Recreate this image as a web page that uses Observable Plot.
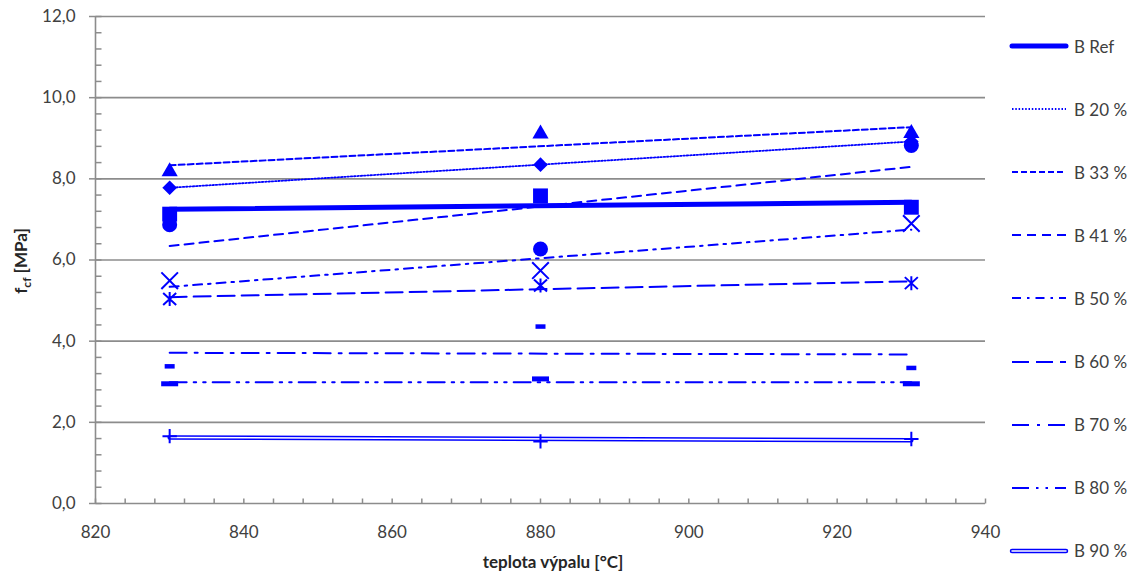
<!DOCTYPE html>
<html><head><meta charset="utf-8">
<script src="https://cdn.jsdelivr.net/npm/d3@7"></script>
<script src="https://cdn.jsdelivr.net/npm/@observablehq/plot@0.6"></script>
<style>
body{margin:0;background:#fff;font-family:Lato,"Liberation Sans",sans-serif;}
#wrap{position:relative;width:1143px;height:575px;overflow:hidden;}
#chart{position:absolute;left:0;top:0;}
#legend{position:absolute;left:1005px;top:0;width:138px;height:575px;}
.item{position:absolute;left:0;height:24px;display:flex;align-items:center;font-size:17px;color:#404040;white-space:nowrap;}
.item svg{margin-right:5px;}
</style></head><body>
<div id="wrap"><div id="chart"></div><div id="legend"></div></div>
<script>
// ---- data ----
const temps = [830, 880, 930];
const seriesNames = ["B Ref", "B 20 %", "B 33 %", "B 41 %", "B 50 %", "B 60 %", "B 70 %", "B 80 %", "B 90 %"];
const bRef = [7.13, 7.58, 7.30];
const b20  = [7.78, 8.35, 8.92];
const b33  = [8.18, 9.11, 9.12];
const b41  = [6.87, 6.27, 8.82];
const b50  = [5.49, 5.74, 6.90];
const b60  = [5.04, 5.37, 5.43];
const b70  = [3.38, 4.36, 3.34];
const b80  = [2.95, 3.07, 2.95];
const b90  = [1.66, 1.53, 1.59];
const xTicks = [820, 840, 860, 880, 900, 920, 940];
const yTicks = [0, 2, 4, 6, 8, 10, 12];
const xMinorTicks = d3.range(820, 941, 4);
const yMinorTicks = d3.range(0, 60.5, 2).map(d => d / 5);

const allValues = [bRef, b20, b33, b41, b50, b60, b70, b80, b90];
const rowsFor = (vals) => temps.map((t, i) => ({t, v: vals[i]}));

// ---- styles ----
const BLUE = "#0000ff";
const bar = (w, h) => ({draw(ctx) { ctx.moveTo(-w/2, -h/2); ctx.lineTo(w/2, -h/2); ctx.lineTo(w/2, h/2); ctx.lineTo(-w/2, h/2); ctx.closePath(); }});
const star = {draw(ctx) { ctx.moveTo(-6.5, -6); ctx.lineTo(6.5, 6); ctx.moveTo(-6.5, 6); ctx.lineTo(6.5, -6); ctx.moveTo(0, -7); ctx.lineTo(0, 7); }};
const tickUp = {draw(ctx) { ctx.moveTo(0, 0); ctx.lineTo(0, -5); }};
const tickRight = {draw(ctx) { ctx.moveTo(0, 0); ctx.lineTo(6, 0); }};
const styles = [
  {dash: null, width: 5, symbol: "square", r: 8.4, filled: true},
  {dash: "1.5 1.8", width: 1.8, symbol: "diamond2", r: 6.6, filled: true},
  {dash: "6 3", width: 2, symbol: "triangle", r: 6, filled: true},
  {dash: "9 6", width: 2, symbol: "circle", r: 7.5, filled: true},
  {dash: "9 6 2.5 6", width: 2, symbol: "times", r: 7.6, filled: false},
  {dash: "17 7", width: 2, symbol: star, r: 5, filled: false},
  {dash: "17 8 3 8", width: 2, symbol: bar(10, 4.5), r: 5, filled: true},
  {dash: "17 7 2.5 7 2.5 7", width: 2, symbol: bar(17, 5), r: 5, filled: true},
  {dash: null, width: 5, symbol: "plus", r: 4.7, filled: false, double: true}
];

const marks = [];
marks.push(Plot.ruleY(yTicks.slice(1), {stroke: "#8c8c8c", strokeWidth: 1.6}));
marks.push(Plot.ruleX([820], {stroke: "#8c8c8c", strokeWidth: 1.6}));
marks.push(Plot.ruleY([0], {stroke: "#8c8c8c", strokeWidth: 1.6}));
marks.push(Plot.dot(xMinorTicks, {x: d => d, frameAnchor: "bottom", symbol: tickUp, r: 3, stroke: "#8c8c8c", strokeWidth: 1.5, fill: "none"}));
marks.push(Plot.dot(yMinorTicks, {y: d => d, frameAnchor: "left", symbol: tickRight, r: 3, stroke: "#8c8c8c", strokeWidth: 1.5, fill: "none"}));
marks.push(Plot.axisY({ticks: yTicks, tickFormat: d => d.toFixed(1).replace(".", ","), tickSize: 6, tickPadding: 14, stroke: "#8c8c8c", strokeWidth: 1.5, fill: "#404040", fontSize: 17, label: null}));
marks.push(Plot.axisX({ticks: xTicks, tickFormat: d => String(d), tickSize: 0, tickPadding: 22, fill: "#404040", fontSize: 17, label: null}));

allValues.forEach((vals, i) => {
  const s = styles[i];
  const rows = rowsFor(vals);
  if (s.double) {
    marks.push(Plot.linearRegressionY(rows, {x: "t", y: "v", ci: 0, stroke: BLUE, strokeWidth: 4.5}));
    marks.push(Plot.linearRegressionY(rows, {x: "t", y: "v", ci: 0, stroke: "#ffffff", strokeWidth: 1.5}));
  } else {
    marks.push(Plot.linearRegressionY(rows, {x: "t", y: "v", ci: 0, stroke: BLUE, strokeWidth: s.width, strokeDasharray: s.dash}));
  }
});
allValues.forEach((vals, i) => {
  const s = styles[i];
  const rows = rowsFor(vals);
  marks.push(Plot.dot(rows, {x: "t", y: "v", symbol: s.symbol, r: s.r,
    fill: s.filled ? BLUE : "none", stroke: s.filled ? "none" : BLUE, strokeWidth: 2}));
});

const plot = Plot.plot({
  width: 1005, height: 575,
  marginLeft: 95, marginRight: 20, marginTop: 16, marginBottom: 72,
  x: {domain: [820, 940]},
  y: {domain: [0, 12]},
  style: {fontFamily: "Lato, 'Liberation Sans', sans-serif", fontSize: "17px", background: "#fff", overflow: "visible"},
  marks
});
document.getElementById("chart").appendChild(plot);

const svg = d3.select(plot);
const yl = svg.append("text")
  .attr("transform", "translate(27,261) rotate(-90)")
  .attr("text-anchor", "middle")
  .attr("font-weight", "bold").attr("font-size", 17).attr("fill", "#262626")
  .attr("font-family", "Lato, 'Liberation Sans', sans-serif");
yl.append("tspan").text("f");
yl.append("tspan").attr("font-size", 12).attr("dy", 4).text("cf");
yl.append("tspan").attr("dy", -4).text(" [MPa]");
svg.append("text")
  .attr("x", 553).attr("y", 568)
  .attr("text-anchor", "middle")
  .attr("font-weight", "bold").attr("font-size", 17).attr("fill", "#262626")
  .attr("font-family", "Lato, 'Liberation Sans', sans-serif")
  .text("teplota výpalu [°C]");

const legend = d3.select("#legend");
seriesNames.forEach((name, i) => {
  const s = styles[i];
  const cy = 46 + 63.1 * i;
  const item = legend.append("div").attr("class", "item").style("top", (cy - 12) + "px");
  const sv = item.append("svg").attr("width", 64).attr("height", 24);
  if (s.double) {
    sv.append("line").attr("x1", 7).attr("x2", 61).attr("y1", 12).attr("y2", 12)
      .attr("stroke", BLUE).attr("stroke-width", 4.5).attr("stroke-linecap", "round");
    sv.append("line").attr("x1", 7).attr("x2", 61).attr("y1", 12).attr("y2", 12)
      .attr("stroke", "#fff").attr("stroke-width", 1.5).attr("stroke-linecap", "round");
  } else {
    sv.append("line").attr("x1", 7).attr("x2", 61).attr("y1", 12).attr("y2", 12)
      .attr("stroke", BLUE).attr("stroke-width", s.width)
      .attr("stroke-linecap", s.dash ? "butt" : "round")
      .attr("stroke-dasharray", s.dash);
  }
  item.append("span").text(name);
});
</script>
</body></html>
